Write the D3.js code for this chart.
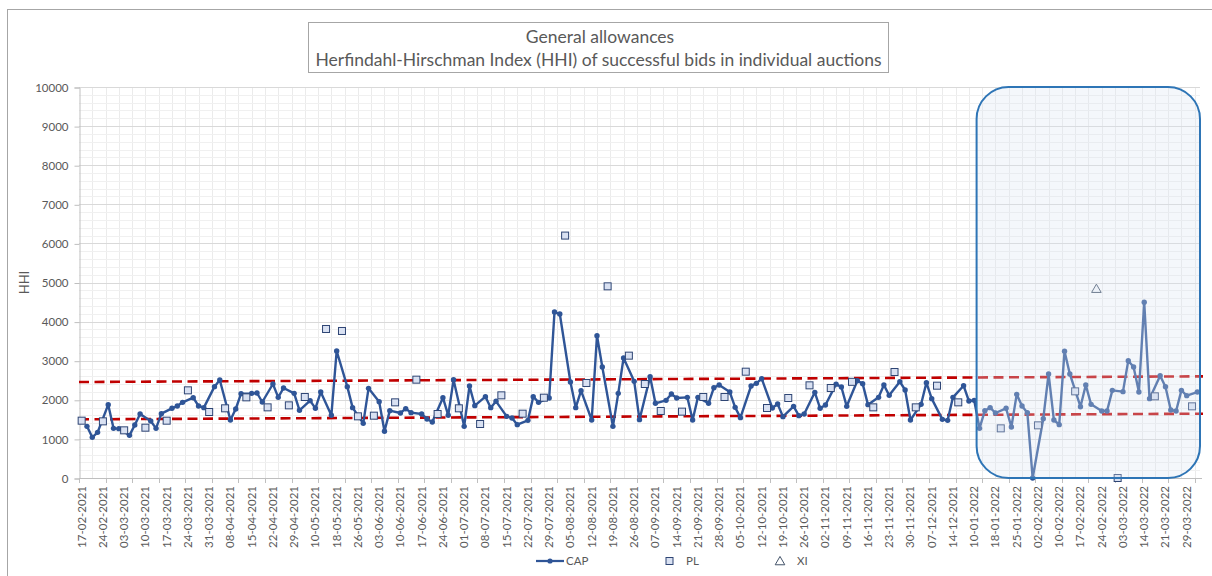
<!DOCTYPE html>
<html>
<head>
<meta charset="utf-8">
<script src="https://cdn.jsdelivr.net/npm/d3@7"></script>
<style>
  body { margin: 0; background: #fff; }
  svg { font-family: Lato, "Noto Sans", sans-serif; }
</style>
</head>
<body>
<svg width="1212" height="576"></svg>
<script>
// tick labels, one on every 4th auction
var tickLabels = ["17-02-2021","24-02-2021","03-03-2021","10-03-2021","17-03-2021","24-03-2021","31-03-2021","08-04-2021","15-04-2021","22-04-2021","29-04-2021","10-05-2021","18-05-2021","26-05-2021","03-06-2021","10-06-2021","17-06-2021","24-06-2021","01-07-2021","08-07-2021","15-07-2021","22-07-2021","29-07-2021","05-08-2021","12-08-2021","19-08-2021","26-08-2021","07-09-2021","14-09-2021","21-09-2021","28-09-2021","05-10-2021","12-10-2021","19-10-2021","26-10-2021","02-11-2021","09-11-2021","16-11-2021","23-11-2021","30-11-2021","07-12-2021","14-12-2021","10-01-2022","18-01-2022","25-01-2022","02-02-2022","10-02-2022","17-02-2022","24-02-2022","03-03-2022","14-03-2022","21-03-2022","29-03-2022"];
var labelEvery = 4;
var nAuctions = 211;

// CAP auctions: [auction index, HHI]
var capData = [
  [1,1321],[2,1040],[3,1168],[5,1875],[6,1270],[7,1262],[9,1091],[10,1355],[11,1637],[13,1458],[14,1270],[15,1645],
  [17,1782],[18,1841],[19,1935],[21,2054],[22,1841],[23,1799],[25,2336],[26,2506],[28,1483],[29,1765],[30,2157],
  [32,2165],[33,2174],[34,1944],[36,2404],[37,2063],[38,2302],[40,2165],[41,1731],[43,1978],[44,1782],[45,2199],
  [47,1603],[48,3248],[50,2336],[51,1799],[53,1398],[54,2293],[56,1952],[57,1194],[58,1722],[60,1662],[61,1773],
  [62,1671],[64,1637],[65,1509],[66,1432],[68,2054],[69,1603],[70,2515],[72,1321],[73,2353],[74,1850],[76,2080],
  [77,1799],[78,1961],[80,1577],[81,1535],[82,1364],[84,1475],[85,2080],[86,1935],[88,2046],[89,4245],[90,4194],
  [92,2455],[93,1799],[94,2234],[96,1483],[97,3640],[98,2839],[100,1321],[101,2165],[102,3069],[104,2472],[105,1492],
  [107,2592],[108,1910],[110,1986],[111,2148],[112,2046],[114,2063],[115,1483],[116,2063],[118,1910],[119,2310],
  [120,2378],[122,2199],[123,1807],[124,1543],[126,2353],[127,2421],[128,2540],[130,1790],[131,1893],[132,1569],
  [134,1833],[135,1594],[136,1637],[138,2191],[139,1782],[140,1867],[142,2400],[143,2327],[144,1833],[146,2489],
  [147,2413],[148,1876],[150,2063],[151,2378],[152,2114],[154,2464],[155,2251],[156,1483],[158,1884],[159,2438],
  [160,2029],[162,1500],[163,1475],[164,2063],[166,2361],[167,1969],[168,1986],[169,1270],[170,1722],[171,1799],
  [172,1662],[174,1782],[175,1304],[176,2140],[177,1841],[178,1671],[179,0],[181,1517],[182,2660],[183,1483],
  [184,1364],[185,3240],[186,2660],[188,1824],[189,2378],[190,1884],[192,1714],[193,1714],[194,2242],[196,2208],
  [197,3001],[198,2839],[199,2199],[200,4493],[201,2029],[203,2617],[204,2336],[205,1739],[206,1714],[207,2242],
  [208,2106],[210,2199]
];

// PL auctions: [auction index, HHI]
var plData = [
  [0,1466],[4,1449],[8,1219],[12,1287],[16,1466],[20,2242],[24,1688],[27,1782],[31,2063],[35,1807],[39,1858],
  [42,2072],[46,3811],[49,3760],[52,1577],[55,1594],[59,1935],[63,2515],[67,1637],[71,1782],[75,1381],[79,2114],
  [83,1645],[87,2054],[91,6200],[95,2430],[99,4902],[103,3129],[106,2404],[109,1714],[113,1697],[117,2072],
  [121,2072],[125,2719],[129,1790],[133,2046],[137,2370],[141,2302],[145,2460],[149,1807],[153,2711],[157,1807],
  [161,2361],[165,1935],[173,1270],[180,1347],[187,2216],[195,0],[202,2089],[209,1833]
];

// XI auctions: [auction index, HHI]
var xiData = [[191,4842]];

// red dashed band: HHI at first and last auction
var bandUpper = [2455, 2600];
var bandLower = [1500, 1645];

// highlighted period (auction index range)
var highlight = [168.95, 211];

var yTicks = [0,1000,2000,3000,4000,5000,6000,7000,8000,9000,10000];

function createChart() {
    var svg = d3.select("svg");
    var left = 79, right = 1200, top = 87, bottom = 478;
    var textColor = "#595959";

    var x = d3.scaleBand().domain(d3.range(nAuctions)).range([left, right]);
    var xPos = d3.scaleLinear().domain([0, nAuctions]).range([left, right]);
    var y = d3.scaleLinear().domain([0, 10000]).range([bottom, top]);
    var cx = function(i) { return x(i) + x.bandwidth() / 2; };

    // outer frame
    svg.append("rect")
        .attr("x", 7.5).attr("y", 9.5)
        .attr("width", 1300).attr("height", 700)
        .attr("fill", "#fff")
        .attr("stroke", "#a6a6a6");

    // gridlines
    var grid = svg.append("g");
    grid.selectAll(".vgrid")
        .data(d3.range(1, nAuctions / 2.5))
        .enter().append("line")
        .attr("x1", function(d) { return Math.round(xPos(d * 2.5)) + 0.5; })
        .attr("x2", function(d) { return Math.round(xPos(d * 2.5)) + 0.5; })
        .attr("y1", top).attr("y2", bottom)
        .attr("stroke", "#ebebeb");
    grid.selectAll(".hminor")
        .data(d3.range(200, 10000, 200).filter(function(v) { return v % 1000 !== 0; }))
        .enter().append("line")
        .attr("x1", left).attr("x2", right)
        .attr("y1", function(d) { return Math.round(y(d)) + 0.5; })
        .attr("y2", function(d) { return Math.round(y(d)) + 0.5; })
        .attr("stroke", "#f0f0f0");
    grid.selectAll(".hmajor")
        .data(yTicks.slice(1))
        .enter().append("line")
        .attr("x1", left).attr("x2", right)
        .attr("y1", function(d) { return Math.round(y(d)) + 0.5; })
        .attr("y2", function(d) { return Math.round(y(d)) + 0.5; })
        .attr("stroke", "#d9d9d9");

    // y axis
    var yAxis = svg.append("g")
        .attr("transform", "translate(" + (left + 0.5) + ",0.5)")
        .call(d3.axisLeft(y).tickValues(yTicks).tickSize(5).tickPadding(6).tickFormat(d3.format("d")));
    yAxis.select(".domain").attr("stroke", "#bfbfbf");
    yAxis.selectAll(".tick line").attr("stroke", "#bfbfbf");
    yAxis.selectAll("text").attr("fill", textColor).style("font-size", "11.5px").style("font-family", "Lato");

    // x axis line and tick marks every 5 auctions
    svg.append("line")
        .attr("x1", left).attr("x2", right + 2)
        .attr("y1", bottom + 0.5).attr("y2", bottom + 0.5)
        .attr("stroke", "#bfbfbf");
    svg.selectAll(".xtick")
        .data(d3.range(0, nAuctions + 1, 5))
        .enter().append("line")
        .attr("x1", function(d) { return Math.round(xPos(d)) + 0.5; })
        .attr("x2", function(d) { return Math.round(xPos(d)) + 0.5; })
        .attr("y1", bottom).attr("y2", bottom + 5)
        .attr("stroke", "#bfbfbf");

    // x labels
    svg.selectAll(".xlabel")
        .data(tickLabels)
        .enter().append("text")
        .attr("transform", function(d, i) {
            return "translate(" + (cx(i * labelEvery) + 4) + "," + (bottom + 8) + ") rotate(-90)";
        })
        .attr("text-anchor", "end")
        .attr("fill", textColor)
        .style("font-size", "11.5px")
        .text(function(d) { return d; });

    // axis title
    svg.append("text")
        .attr("transform", "translate(29," + ((top + bottom) / 2) + ") rotate(-90)")
        .attr("text-anchor", "middle")
        .attr("fill", textColor)
        .style("font-size", "13px")
        .text("HHI");

    // dashed band lines
    [bandUpper, bandLower].forEach(function(b) {
        svg.append("line")
            .attr("x1", xPos(0)).attr("x2", xPos(nAuctions) + 3)
            .attr("y1", y(b[0])).attr("y2", y(b[1]))
            .attr("stroke", "#c00000")
            .attr("stroke-width", 2.6)
            .attr("stroke-dasharray", "10,5.5");
    });

    // CAP line
    var line = d3.line()
        .x(function(d) { return cx(d[0]); })
        .y(function(d) { return y(d[1]); });
    svg.append("path")
        .datum(capData)
        .attr("d", line)
        .attr("fill", "none")
        .attr("stroke", "#2f5597")
        .attr("stroke-width", 2.4)
        .attr("stroke-linejoin", "round");
    svg.selectAll(".capdot")
        .data(capData)
        .enter().append("circle")
        .attr("cx", function(d) { return cx(d[0]); })
        .attr("cy", function(d) { return y(d[1]); })
        .attr("r", 2.7)
        .attr("fill", "#2f5597");

    // PL squares
    svg.selectAll(".pl")
        .data(plData)
        .enter().append("rect")
        .attr("x", function(d) { return cx(d[0]) - 3.5; })
        .attr("y", function(d) { return y(d[1]) - 3.5; })
        .attr("width", 7).attr("height", 7)
        .attr("fill", "#d9e1f2")
        .attr("stroke", "#2e4574")
        .attr("stroke-width", 1);

    // XI triangles
    var tri = d3.symbol().type(d3.symbolTriangle).size(40);
    svg.selectAll(".xi")
        .data(xiData)
        .enter().append("path")
        .attr("d", tri)
        .attr("transform", function(d) { return "translate(" + cx(d[0]) + "," + (y(d[1]) + 1) + ")"; })
        .attr("fill", "#f4f6fb")
        .attr("stroke", "#44546a")
        .attr("stroke-width", 1);

    // highlighted period
    svg.append("rect")
        .attr("x", xPos(highlight[0]))
        .attr("y", y(10000))
        .attr("width", xPos(highlight[1]) - xPos(highlight[0]))
        .attr("height", y(0) - y(10000))
        .attr("rx", 32)
        .attr("fill", "#dae3f3")
        .attr("fill-opacity", 0.3)
        .attr("stroke", "#2e75b6")
        .attr("stroke-width", 2);

    // title
    svg.append("rect")
        .attr("x", 308.5).attr("y", 22.5)
        .attr("width", 580).attr("height", 50)
        .attr("fill", "#fff")
        .attr("stroke", "#a6a6a6");
    svg.append("text")
        .attr("x", 600).attr("y", 43)
        .attr("text-anchor", "middle")
        .attr("fill", textColor)
        .style("font-size", "17.5px")
        .text("General allowances");
    svg.append("text")
        .attr("x", 598.5).attr("y", 66)
        .attr("text-anchor", "middle")
        .attr("fill", textColor)
        .style("font-size", "17.5px")
        .text("Herfindahl-Hirschman Index (HHI) of successful bids in individual auctions");

    // legend
    var legend = svg.append("g").attr("transform", "translate(0,561)");
    legend.append("line")
        .attr("x1", 536).attr("x2", 564)
        .attr("stroke", "#2f5597").attr("stroke-width", 2.25);
    legend.append("circle")
        .attr("cx", 550).attr("r", 2.6).attr("fill", "#2f5597");
    legend.append("rect")
        .attr("x", 666).attr("y", -3.5).attr("width", 7).attr("height", 7)
        .attr("fill", "#d9e1f2").attr("stroke", "#2e4574");
    legend.append("path")
        .attr("d", tri)
        .attr("transform", "translate(780,1)")
        .attr("fill", "#fff").attr("stroke", "#44546a");
    legend.selectAll("text")
        .data([["CAP", 566], ["PL", 686], ["XI", 797]])
        .enter().append("text")
        .attr("x", function(d) { return d[1]; })
        .attr("y", 4)
        .attr("fill", textColor)
        .style("font-size", "11.5px")
        .text(function(d) { return d[0]; });
}

createChart();
</script>
</body>
</html>
